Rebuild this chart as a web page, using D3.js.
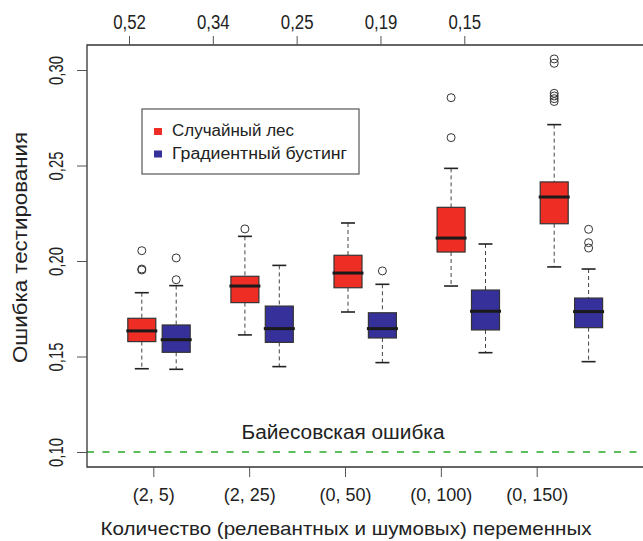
<!DOCTYPE html>
<html lang="ru">
<head>
<meta charset="UTF-8">
<title>Ошибка тестирования</title>
<script src="https://d3js.org/d3.v7.min.js"></script>
<style>
    body { margin: 0; background: #fff; }
    svg text { font-family: "Liberation Sans", Arial, sans-serif; fill: #222; }
</style>
</head>
<body>
<svg width="643" height="541"></svg>
<script>
// categories and tick labels
var groups = ["(2, 5)", "(2, 25)", "(0, 50)", "(0, 100)", "(0, 150)"];
var topLabels = ["0,52", "0,34", "0,25", "0,19", "0,15"];
var yTicks = [0.10, 0.15, 0.20, 0.25, 0.30];
var bayesError = 0.10;

// box stats: [lower whisker, q1, median, q3, upper whisker]
var rfStats = [
    [0.1436, 0.1578, 0.1634, 0.1700, 0.1834],
    [0.1613, 0.1782, 0.1869, 0.1920, 0.2129],
    [0.1733, 0.1860, 0.1937, 0.2030, 0.2199],
    [0.1869, 0.2047, 0.2120, 0.2281, 0.2485],
    [0.1969, 0.2195, 0.2335, 0.2414, 0.2714]
];
var rfOutliers = [
    [0.2054, 0.1953, 0.1958],
    [0.2168],
    [],
    [0.2855, 0.2646],
    [0.3058, 0.3035, 0.2878, 0.2864, 0.2850, 0.2835]
];
var gbStats = [
    [0.1433, 0.1522, 0.1588, 0.1665, 0.1871],
    [0.1447, 0.1574, 0.1646, 0.1764, 0.1977],
    [0.1468, 0.1597, 0.1646, 0.1729, 0.1878],
    [0.1520, 0.1639, 0.1737, 0.1848, 0.2089],
    [0.1473, 0.1651, 0.1735, 0.1806, 0.1958]
];
var gbOutliers = [
    [0.2016, 0.1902],
    [],
    [0.1948],
    [],
    [0.2166, 0.2096, 0.2068]
];

var series = [
    { name: "Случайный лес", color: "#ee2e24", stats: rfStats, outliers: rfOutliers, off: -17.2 },
    { name: "Градиентный бустинг", color: "#35309a", stats: gbStats, outliers: gbOutliers, off: 17.2 }
];

var svg = d3.select("svg");
// note: "top" is reserved on window, so use plot* names
var plotLeft = 87, plotTop = 45, plotBottom = 467, plotRight = 700;
var boxW = 28, capW = 14;

var y = d3.scaleLinear().domain([0.10, 0.30]).range([452, 70]);
var xBox = d3.scaleLinear().domain([0, groups.length - 1]).range([159, 571.4]);
var xBottom = d3.scalePoint().domain(groups).range([153.3, 536.7]);
var xTop = d3.scalePoint().domain(topLabels).range([129, 464.3]);

function squeeze(sel, k) {
    sel.each(function() {
        var w = this.getComputedTextLength();
        d3.select(this).attr("textLength", w * k).attr("lengthAdjust", "spacingAndGlyphs");
    });
}
function fitTo(sel, w) {
    sel.attr("textLength", w).attr("lengthAdjust", "spacingAndGlyphs");
}

// bayes error line
svg.append("line")
    .attr("x1", plotLeft).attr("x2", plotRight)
    .attr("y1", y(bayesError)).attr("y2", y(bayesError))
    .attr("stroke", "#5cbf5c").attr("stroke-width", 2)
    .attr("stroke-dasharray", "7,8.5");

// frame (right side is cut off by the page)
svg.append("path")
    .attr("d", "M" + plotRight + "," + plotTop + "H" + plotLeft + "V" + plotBottom + "H" + plotRight)
    .attr("fill", "none").attr("stroke", "#333").attr("stroke-width", 1.3);

// axes
var yAxis = svg.append("g")
    .attr("transform", "translate(" + plotLeft + ",0)")
    .call(d3.axisLeft(y).tickValues(yTicks).tickSize(10)
        .tickFormat(function(d) { return d3.format(".2f")(d).replace(".", ","); }));
yAxis.select(".domain").remove();
yAxis.selectAll("line").attr("stroke", "#555");
yAxis.selectAll("text")
    .attr("x", 0).attr("dy", 0)
    .attr("transform", "translate(-24,0) rotate(-90)")
    .attr("text-anchor", "middle")
    .style("font-size", "20px")
    .call(squeeze, 0.74);

var bAxis = svg.append("g")
    .attr("transform", "translate(0," + plotBottom + ")")
    .call(d3.axisBottom(xBottom).tickSize(10));
bAxis.select(".domain").remove();
bAxis.selectAll("line").attr("stroke", "#555");
bAxis.selectAll("text").attr("y", 34).attr("dy", 0).style("font-size", "18px");

var tAxis = svg.append("g")
    .attr("transform", "translate(0," + plotTop + ")")
    .call(d3.axisTop(xTop).tickSize(9));
tAxis.select(".domain").remove();
tAxis.selectAll("line").attr("stroke", "#555");
tAxis.selectAll("text").attr("y", -16.5).attr("dy", 0)
    .style("font-size", "20px")
    .call(squeeze, 0.84);

// boxes
series.forEach(function(s) {
    var g = svg.append("g");
    s.stats.forEach(function(st, i) {
        var cx = xBox(i) + s.off;
        var bg = g.append("g");
        bg.append("line")
            .attr("x1", cx).attr("x2", cx)
            .attr("y1", y(st[4])).attr("y2", y(st[3]))
            .attr("stroke", "#444").attr("stroke-dasharray", "4,3");
        bg.append("line")
            .attr("x1", cx).attr("x2", cx)
            .attr("y1", y(st[1])).attr("y2", y(st[0]))
            .attr("stroke", "#444").attr("stroke-dasharray", "4,3");
        [st[0], st[4]].forEach(function(v) {
            bg.append("line")
                .attr("x1", cx - capW / 2).attr("x2", cx + capW / 2)
                .attr("y1", y(v)).attr("y2", y(v))
                .attr("stroke", "#222").attr("stroke-width", 1.6);
        });
        bg.append("rect")
            .attr("x", cx - boxW / 2).attr("width", boxW)
            .attr("y", y(st[3])).attr("height", y(st[1]) - y(st[3]))
            .attr("fill", s.color).attr("stroke", "#333").attr("stroke-width", 1.2);
        bg.append("line")
            .attr("x1", cx - boxW / 2 - 1.5).attr("x2", cx + boxW / 2 + 1.5)
            .attr("y1", y(st[2])).attr("y2", y(st[2]))
            .attr("stroke", "#1a1a1a").attr("stroke-width", 3);
        bg.selectAll("circle")
            .data(s.outliers[i])
            .enter().append("circle")
            .attr("cx", cx).attr("cy", function(d) { return y(d); })
            .attr("r", 4)
            .attr("fill", "none").attr("stroke", "#333").attr("stroke-width", 1);
    });
});

// legend
var lg = svg.append("g");
lg.append("rect")
    .attr("x", 142).attr("y", 109).attr("width", 217).attr("height", 65)
    .attr("fill", "#fff").attr("stroke", "#555").attr("stroke-width", 1.2);
var lgW = [122, 175];
series.forEach(function(s, i) {
    lg.append("rect")
        .attr("x", 154).attr("y", 128 + i * 22.5).attr("width", 8).attr("height", 7)
        .attr("fill", s.color);
    lg.append("text")
        .attr("x", 172).attr("y", 136 + i * 22.5)
        .style("font-size", "16px")
        .text(s.name)
        .call(fitTo, lgW[i]);
});

// labels
svg.append("text")
    .attr("x", 343).attr("y", 439)
    .attr("text-anchor", "middle")
    .style("font-size", "19.5px")
    .text("Байесовская ошибка")
    .call(fitTo, 203);

svg.append("text")
    .attr("x", 346).attr("y", 535)
    .attr("text-anchor", "middle")
    .style("font-size", "19px")
    .text("Количество (релевантных и шумовых) переменных")
    .call(fitTo, 491);

svg.append("text")
    .attr("transform", "translate(27,247.5) rotate(-90)")
    .attr("text-anchor", "middle")
    .style("font-size", "20px")
    .text("Ошибка тестирования")
    .call(fitTo, 231);
</script>
</body>
</html>
